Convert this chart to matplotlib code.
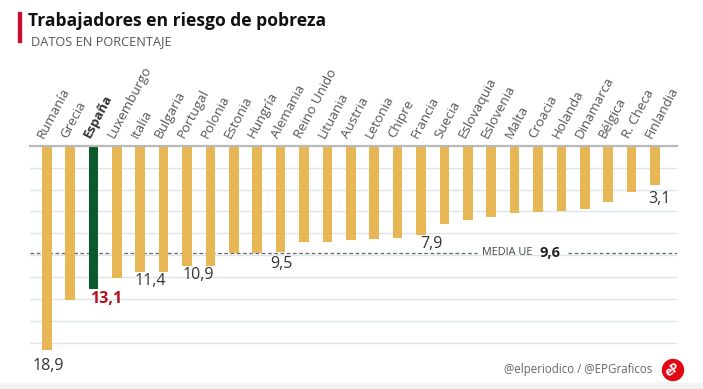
import matplotlib
matplotlib.use("Agg")
import matplotlib.pyplot as plt
from matplotlib.patches import Rectangle, Circle
import numpy as np

countries = ["Rumanía", "Grecia", "España", "Luxemburgo", "Italia", "Bulgaria",
             "Portugal", "Polonia", "Estonia", "Hungría", "Alemania", "Reino Unido",
             "Lituania", "Austria", "Letonia", "Chipre", "Francia", "Suecia",
             "Eslovaquia", "Eslovenia", "Malta", "Croacia", "Holanda", "Dinamarca",
             "Bélgica", "R. Checa", "Finlandia"]
values = [18.9, 14.1, 13.1, 12.0, 11.4, 11.4, 10.9, 10.9, 9.6, 9.6, 9.5, 8.6,
          8.6, 8.4, 8.3, 8.2, 7.9, 6.8, 6.5, 6.2, 5.8, 5.7, 5.6, 5.4, 4.7, 3.8, 3.1]
eu_mean = 9.6
highlight = "España"
# labelled bars: index -> (dx px, dy px below bar end)
labelled = {0: (2, 16), 2: (13, 10), 4: (10, 9), 6: (11, 9), 10: (1, 12),
            16: (10, 9), 26: (4, 14)}

W, H = 703, 389
fig = plt.figure(figsize=(W / 100, H / 100), dpi=100)
fig.patch.set_facecolor("white")

FONT = ["Open Sans", "DejaVu Sans"]

# axes placement (pixels)
ax_left, ax_right, ax_top, ax_bot = 30, 677, 145.7, 383
ax = fig.add_axes([ax_left / W, 1 - ax_bot / H, (ax_right - ax_left) / W, (ax_bot - ax_top) / H])
ax.set_facecolor("none")

y0, k = 152.5, 10.45   # pixel of value 0, px per unit
top_v = (ax_top - y0) / k
bot_v = (ax_bot - y0) / k
ax.set_ylim(bot_v, top_v)
ax.set_xlim(-0.714, 26.94)
for s in ax.spines.values():
    s.set_visible(False)
ax.set_xticks([])
ax.set_yticks([])

x = np.arange(len(countries))

# grid lines
for gy in np.arange(1.445, 18.6, 2.096):
    ax.axhline(gy, color="#dbe5ec", lw=1.0, zorder=0)

# mean dashed line with gap
ax.hlines(eu_mean, -0.714, 18.39, colors="#666666", lw=0.9, linestyles=(0, (3, 2)), zorder=1)
ax.hlines(eu_mean, 22.28, 26.94, colors="#666666", lw=0.9, linestyles=(0, (3, 2)), zorder=1)

colors = ["#0a5a2c" if c == highlight else "#e8b755" for c in countries]
vals = np.array(values)
ax.bar(x, vals - top_v, bottom=top_v, width=0.41, color=colors, zorder=2)

# top axis line
ax.axhline(top_v, color="#b9b9b9", lw=1.6, zorder=3, clip_on=False)

# country labels
for i, c in enumerate(countries):
    bold = c == highlight
    ax.annotate(c, xy=(i, 1), xycoords=("data", "axes fraction"),
                xytext=(-3, 7), textcoords="offset pixels",
                rotation=62, rotation_mode="anchor", ha="left", va="baseline",
                fontsize=9.6, family=FONT,
                fontweight="bold" if bold else "normal",
                color="#333333" if bold else "#555555", annotation_clip=False)

# value labels
for i, (dx, dy) in labelled.items():
    v = values[i]
    txt = f"{v:.1f}".replace(".", ",")
    hl = countries[i] == highlight
    ax.annotate(txt, xy=(i, v), xycoords="data", xytext=(dx, -dy),
                textcoords="offset pixels", ha="center", va="center",
                fontsize=11.5, family=FONT,
                fontweight="bold" if hl else "normal",
                color="#b5121b" if hl else "#333333", annotation_clip=False)

# mean label
ax.text(18.61, eu_mean, "MEDIA UE", ha="left", va="center", fontsize=7.8,
        family=FONT, color="#444444")
ax.text(21.08, eu_mean, f"{eu_mean:.1f}".replace(".", ","), ha="left", va="center",
        fontsize=10.5, family=FONT, fontweight="bold", color="#222222")

# title block
fig.patches.append(Rectangle((18 / W, 1 - 42 / H), 3 / W, 30 / H,
                             transform=fig.transFigure, color="#c8102e"))
fig.text(28 / W, 1 - 26 / H, "Trabajadores en riesgo de pobreza", ha="left",
         va="baseline", fontsize=12.65, fontweight="bold", family=FONT, color="#111111")
fig.text(31 / W, 1 - 45 / H, "DATOS EN PORCENTAJE", ha="left", va="baseline",
         fontsize=9.2, family=FONT, color="#555555")

# footer
fig.patches.append(Rectangle((0, 0), 1, 6 / H, transform=fig.transFigure,
                             color="#f1f2f4"))
fig.text(652 / W, 1 - 370 / H, "@elperiodico / @EPGraficos", ha="right", va="center",
         fontsize=8.3, family=FONT, color="#666666")
fig.patches.append(Circle((6.73, (H - 370) / 100), 0.105,
                          transform=fig.dpi_scale_trans, color="#e30613"))
fig.text(673 / W, 1 - 370 / H, "eP", ha="center", va="center", rotation=35,
         fontsize=9, fontweight="bold", family=FONT, color="white")

fig.savefig("out.png", dpi=100)
